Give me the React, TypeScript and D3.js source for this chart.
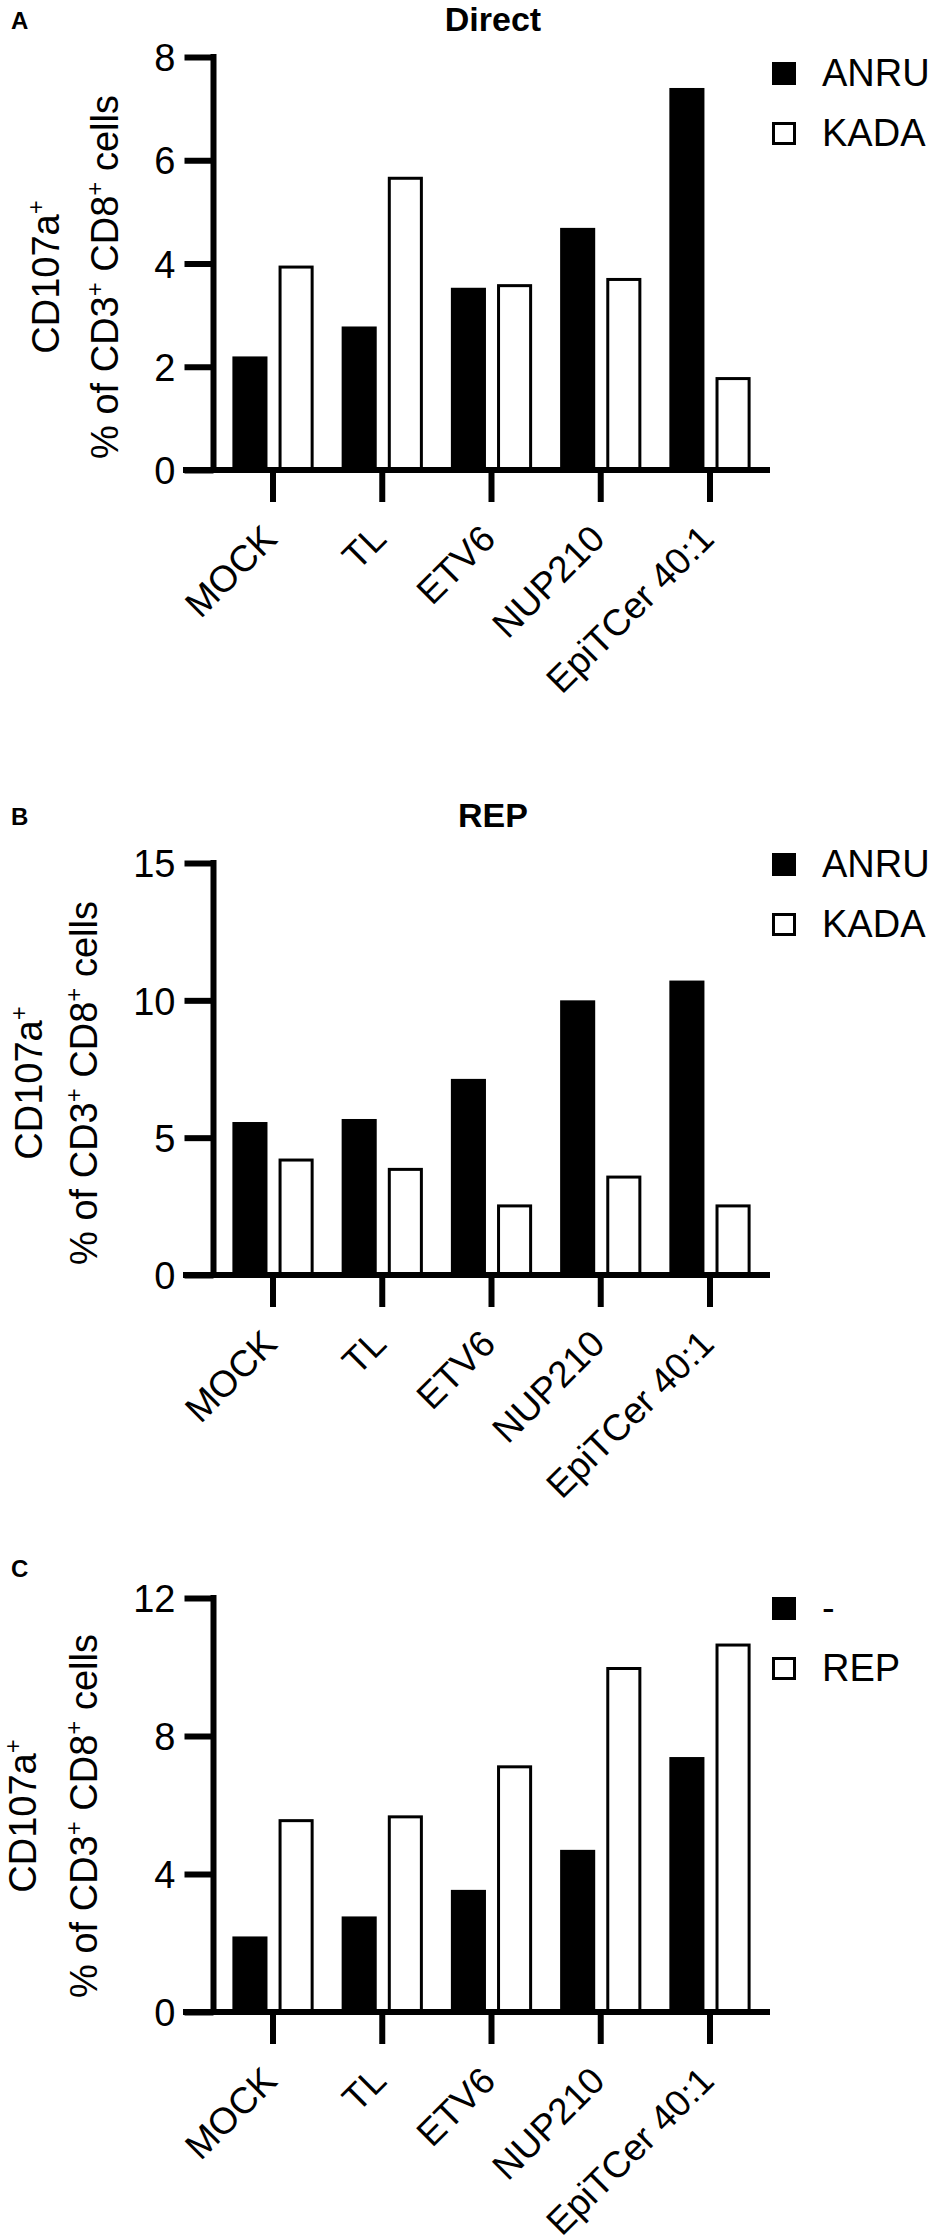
import * as d3 from 'd3';
import { useEffect, useRef } from 'react';

// categorías y valores
const categories = ['MOCK', 'TL', 'ETV6', 'NUP210', 'EpiTCer 40:1'];

const directAnru = [2.2, 2.78, 3.53, 4.69, 7.4];
const directKada = [3.96, 5.68, 3.6, 3.72, 1.8];

const repAnru = [5.57, 5.68, 7.14, 10.0, 10.72];
const repKada = [4.24, 3.9, 2.57, 3.62, 2.57];

const compareMinus = [2.19, 2.77, 3.54, 4.7, 7.39];
const compareRep = [5.59, 5.7, 7.15, 10.0, 10.68];

const ticksA = [0, 2, 4, 6, 8];
const ticksB = [0, 5, 10, 15];
const ticksC = [0, 4, 8, 12];

const seriesAB = ['ANRU', 'KADA'];
const seriesC = ['-', 'REP'];

type Panel = {
  letter: string;
  title: string;
  series: string[];
  values: number[][];
  ticks: number[];
  yTop: number;
  yZero: number;
  titleY: number;
  letterY: number;
  legendY: number;
  labelCenterY: number;
  labelX1: number;
  labelX2: number;
};

const panels: Panel[] = [
  {
    letter: 'A', title: 'Direct', series: seriesAB, values: [directAnru, directKada], ticks: ticksA,
    yTop: 57, yZero: 470, titleY: 31, letterY: 29, legendY: 62, labelCenterY: 277, labelX1: 59, labelX2: 118,
  },
  {
    letter: 'B', title: 'REP', series: seriesAB, values: [repAnru, repKada], ticks: ticksB,
    yTop: 863, yZero: 1275, titleY: 827, letterY: 825, legendY: 853, labelCenterY: 1083, labelX1: 42, labelX2: 97,
  },
  {
    letter: 'C', title: '', series: seriesC, values: [compareMinus, compareRep], ticks: ticksC,
    yTop: 1598, yZero: 2012, titleY: 0, letterY: 1577, legendY: 1597, labelCenterY: 1816, labelX1: 36, labelX2: 97,
  },
];

const FONT = '"Liberation Sans", Arial, Helvetica, sans-serif';

export default function App() {
  const svgRef = useRef<SVGSVGElement | null>(null);

  useEffect(() => {
    document.body.style.margin = '0';
    if (!svgRef.current) return;
    const svg = d3.select(svgRef.current);
    svg.selectAll('*').remove();
    svg.attr('font-family', FONT);

    const axisX = 213.5; // eje Y
    const x = d3.scaleBand<string>().domain(categories).range([218.4, 764.6]);
    const bw = x.bandwidth();

    panels.forEach(p => {
      const g = svg.append('g');
      const maxV = p.ticks[p.ticks.length - 1];
      const y = d3.scaleLinear().domain([0, maxV]).range([p.yZero, p.yTop]);
      const sub = d3.scaleBand<string>().domain(p.series).range([14, bw - 14]).paddingInner(0.24);

      // letra del panel
      g.append('text')
        .attr('x', 11).attr('y', p.letterY)
        .attr('font-size', 24).attr('font-weight', 'bold')
        .text(p.letter);

      // título
      if (p.title) {
        g.append('text')
          .attr('x', 493).attr('y', p.titleY)
          .attr('text-anchor', 'middle')
          .attr('font-size', 34).attr('font-weight', 'bold')
          .text(p.title);
      }

      // barras
      p.series.forEach((s, si) => {
        const filled = si === 0;
        g.append('g')
          .selectAll('rect')
          .data(p.values[si].map((v, i) => ({ v, c: categories[i] })))
          .join('rect')
          .attr('x', d => x(d.c)! + sub(s)! + (filled ? 0 : 1.5))
          .attr('y', d => y(d.v) + (filled ? 0 : 1.5))
          .attr('width', sub.bandwidth() - (filled ? 0 : 3))
          .attr('height', d => y(0) - y(d.v) - (filled ? 0 : 1.5))
          .attr('fill', filled ? '#000' : '#fff')
          .attr('stroke', filled ? 'none' : '#000')
          .attr('stroke-width', 3);
      });

      // eje Y
      const yAxis = d3.axisLeft(y).tickValues(p.ticks).tickSize(29).tickSizeOuter(0).tickPadding(10);
      const ya = g.append('g').attr('transform', `translate(${axisX},0)`).call(yAxis);
      ya.select('.domain').remove();
      ya.selectAll('line').attr('stroke', '#000').attr('stroke-width', 6);
      ya.selectAll('text')
        .attr('font-size', 38).attr('font-family', FONT).attr('fill', '#000')
        .attr('x', -38).attr('dy', '0.36em');
      g.append('line')
        .attr('x1', axisX).attr('x2', axisX)
        .attr('y1', p.yTop - 3).attr('y2', p.yZero)
        .attr('stroke', '#000').attr('stroke-width', 6);

      // eje X
      const xAxis = d3.axisBottom(x).tickSize(32).tickSizeOuter(0).tickFormat(() => '');
      const xa = g.append('g').attr('transform', `translate(0,${p.yZero})`).call(xAxis);
      xa.select('.domain').remove();
      xa.selectAll('line').attr('stroke', '#000').attr('stroke-width', 6);
      g.append('line')
        .attr('x1', 183).attr('x2', 770)
        .attr('y1', p.yZero).attr('y2', p.yZero)
        .attr('stroke', '#000').attr('stroke-width', 6);

      // etiquetas rotadas
      g.append('g')
        .selectAll('text')
        .data(categories)
        .join('text')
        .attr('transform', d => `translate(${x(d)! + bw / 2 + 6},${p.yZero + 71}) rotate(-45)`)
        .attr('text-anchor', 'end')
        .attr('font-size', 37)
        .text(d => d);

      // título del eje Y (dos líneas)
      const l1 = g.append('text')
        .attr('transform', `translate(${p.labelX1},${p.labelCenterY}) rotate(-90)`)
        .attr('text-anchor', 'middle').attr('font-size', 38);
      l1.append('tspan').text('CD107a');
      l1.append('tspan').attr('font-size', 24).attr('dy', -15).text('+');

      const l2 = g.append('text')
        .attr('transform', `translate(${p.labelX2},${p.labelCenterY}) rotate(-90)`)
        .attr('text-anchor', 'middle').attr('font-size', 38);
      l2.append('tspan').text('% of CD3');
      l2.append('tspan').attr('font-size', 24).attr('dy', -15).text('+');
      l2.append('tspan').attr('dy', 15).text(' CD8');
      l2.append('tspan').attr('font-size', 24).attr('dy', -15).text('+');
      l2.append('tspan').attr('dy', 15).text(' cells');

      // leyenda
      const lg = g.append('g');
      p.series.forEach((s, si) => {
        const top = p.legendY + si * 60;
        const filled = si === 0;
        lg.append('rect')
          .attr('x', filled ? 772 : 773.5).attr('y', filled ? top : top + 1.5)
          .attr('width', filled ? 24 : 21).attr('height', filled ? 23 : 20)
          .attr('fill', filled ? '#000' : '#fff')
          .attr('stroke', filled ? 'none' : '#000')
          .attr('stroke-width', 3);
        lg.append('text')
          .attr('x', 822).attr('y', top + 24)
          .attr('font-size', 38)
          .text(s);
      });
    });
  }, []);

  return (
    <div style={{ background: '#fff' }}>
      <svg ref={svgRef} width={930} height={2240} style={{ display: 'block' }} />
    </div>
  );
}
